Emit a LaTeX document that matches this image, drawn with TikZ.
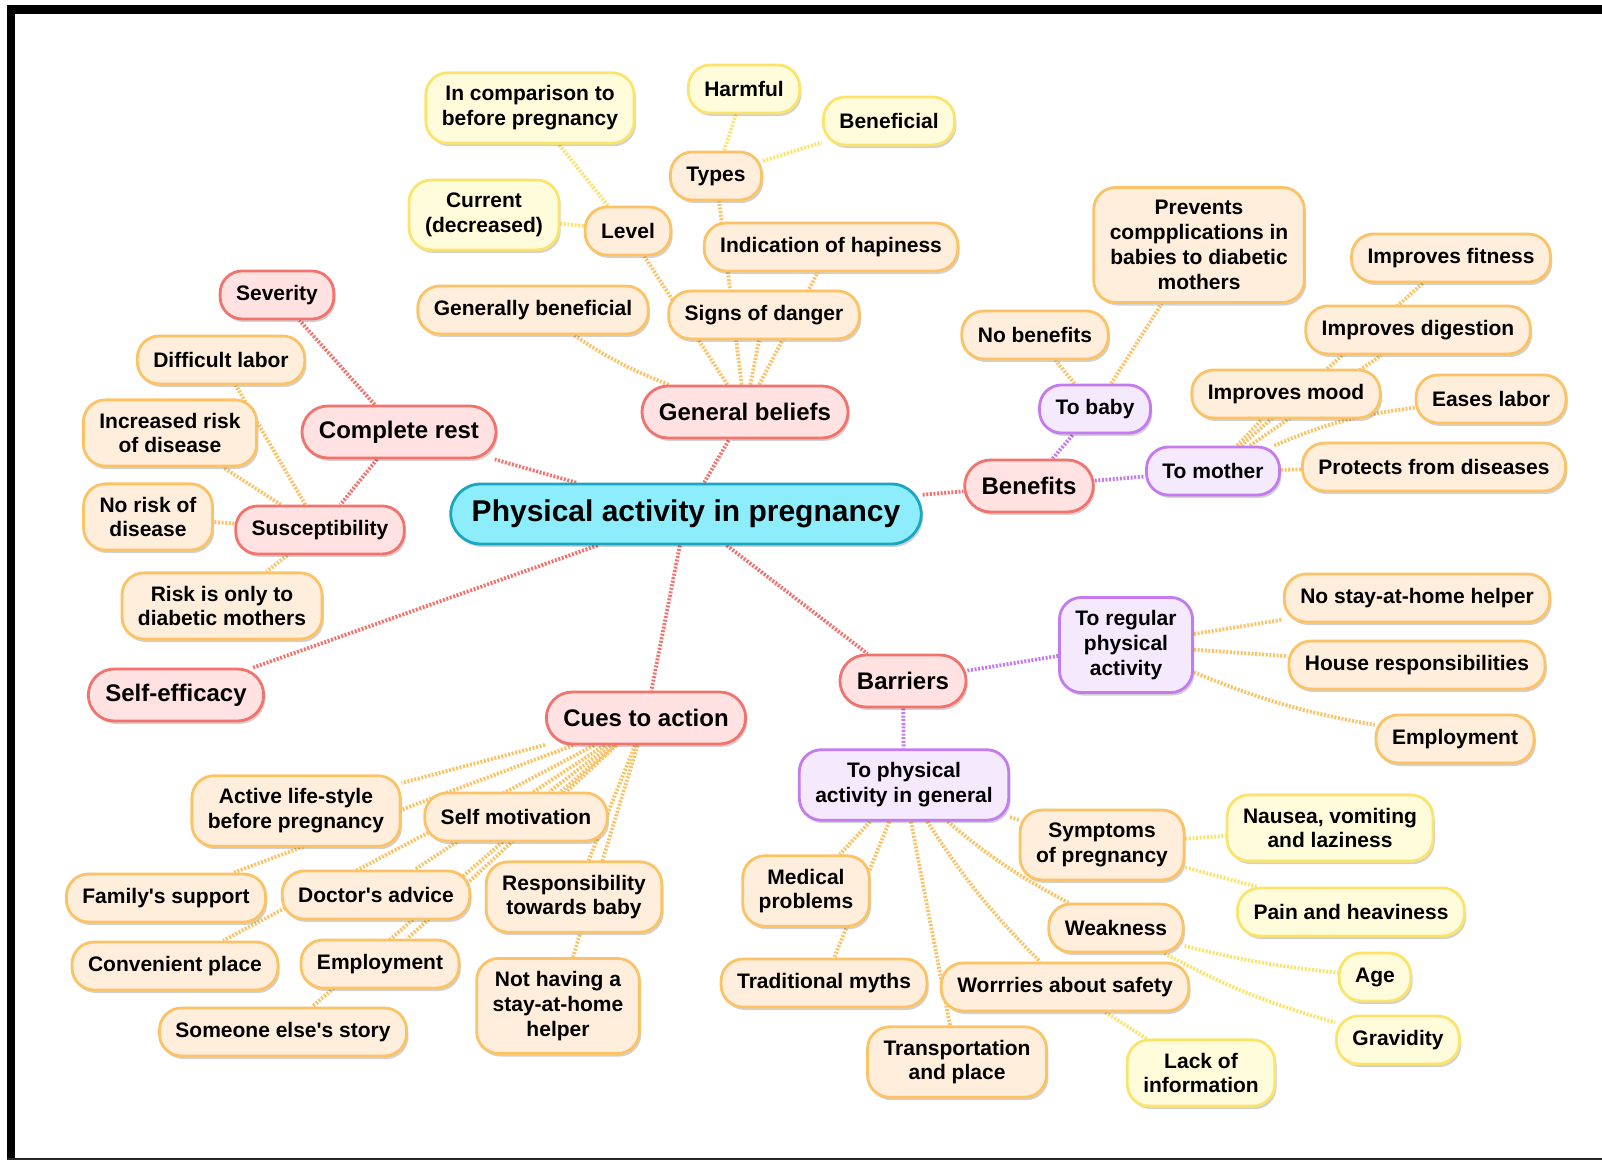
\documentclass[tikz,border=0pt]{standalone}
\usepackage{fontspec}
\setmainfont{Liberation Sans}
\usetikzlibrary{shadows,backgrounds}
\definecolor{cyanF}{HTML}{8DEDFB}
\definecolor{cyanB}{HTML}{1AA5C2}
\definecolor{redF}{HTML}{FFE2E1}
\definecolor{redB}{HTML}{F2736D}
\definecolor{purF}{HTML}{F5E9FE}
\definecolor{purB}{HTML}{C47AF0}
\definecolor{oraF}{HTML}{FFEEDB}
\definecolor{oraB}{HTML}{FCC366}
\definecolor{yelF}{HTML}{FFFCDC}
\definecolor{yelB}{HTML}{FCE46C}
\newcommand{\apo}{\textquotesingle}
\begin{document}
\begin{tikzpicture}[x=0.5pt,y=-0.5pt,
  nd/.style={draw, line width=1.4pt, align=center,
    font=\bfseries\fontsize{10.5}{12.4}\selectfont,
    inner xsep=8pt, inner ysep=6.5pt, minimum height=24pt, rounded corners=11pt,
    drop shadow={shadow xshift=0.9pt, shadow yshift=-1.5pt, fill=black, opacity=0.18}},
  ndO/.style={nd, fill=oraF, draw=oraB},
  ndY/.style={nd, fill=yelF, draw=yelB},
  ndP/.style={nd, fill=purF, draw=purB},
  ndR/.style={nd, fill=redF, draw=redB},
  ndL/.style={ndR, font=\bfseries\fontsize{12}{14}\selectfont, inner xsep=8.5pt,
    minimum height=26pt, rounded corners=13pt},
  ndM/.style={nd, fill=cyanF, draw=cyanB, font=\bfseries\fontsize{15}{18}\selectfont,
    inner xsep=10.5pt, minimum height=30pt, rounded corners=15pt},
  cn/.style={line width=1.9pt, dash pattern=on 1pt off 0.8pt},
  cnR/.style={cn, draw=redB},
  cnO/.style={cn, draw=oraB},
  cnY/.style={cn, draw=yelB},
  cnP/.style={cn, draw=purB},
]
\useasboundingbox (0,0) rectangle (1602,1160);

% frame
\fill[black] (7,5) rectangle (15,1160);
\fill[black] (7,5) rectangle (1602,14);
\fill[black!85] (7,1157.5) rectangle (1602,1160);

% central and first level
\node[ndM] (main) at (686,514) {Physical activity in pregnancy};
\node[ndL] (gb) at (745,412) {General beliefs};
\node[ndL] (cr) at (399,432) {Complete rest};
\node[ndL] (ben) at (1029,486) {Benefits};
\node[ndL] (bar) at (903,681) {Barriers};
\node[ndL] (cues) at (646,718) {Cues to action};
\node[ndL] (se) at (176,695) {Self-efficacy};

% general beliefs
\node[ndO] (genben) at (533,310) {Generally beneficial};
\node[ndO] (signs) at (764,315) {Signs of danger};
\node[ndO] (level) at (628,231) {Level};
\node[ndO] (types) at (716,176) {Types};
\node[ndO] (indic) at (831,247) {Indication of hapiness};
\node[ndY] (incomp) at (530,108) {In comparison to\\before pregnancy};
\node[ndY] (current) at (484,215) {Current\\(decreased)};
\node[ndY] (harmful) at (744,89) {Harmful};
\node[ndY] (benef) at (889,121) {Beneficial};

% complete rest
\node[ndR] (sever) at (277,295) {Severity};
\node[ndR] (susc) at (320,530) {Susceptibility};
\node[ndO] (diff) at (221,360) {Difficult labor};
\node[ndO] (incrisk) at (170,433) {Increased risk\\of disease};
\node[ndO] (norisk) at (148,517) {No risk of\\disease};
\node[ndO] (riskonly) at (222,606) {Risk is only to\\diabetic mothers};

% benefits
\node[ndP] (tobaby) at (1095,409) {To baby};
\node[ndP] (tomother) at (1213,471) {To mother};
\node[ndO] (noben) at (1035,335) {No benefits};
\node[ndO] (prevents) at (1199,245) {Prevents\\compplications in\\babies to diabetic\\mothers};
\node[ndO] (fitness) at (1451,258) {Improves fitness};
\node[ndO] (digest) at (1418,330) {Improves digestion};
\node[ndO] (mood) at (1286,394) {Improves mood};
\node[ndO] (eases) at (1491,399) {Eases labor};
\node[ndO] (protects) at (1434,467) {Protects from diseases};

% barriers
\node[ndP] (toreg) at (1126,645) {To regular\\physical\\activity};
\node[ndP] (togen) at (904,785) {To physical\\activity in general};
\node[ndO] (nostay) at (1417,598) {No stay-at-home helper};
\node[ndO] (house) at (1417,665) {House responsibilities};
\node[ndO] (employA) at (1455,739) {Employment};
\node[ndO] (sympt) at (1102,845) {Symptoms\\of pregnancy};
\node[ndO] (medical) at (806,891) {Medical\\problems};
\node[ndO] (weak) at (1116,928) {Weakness};
\node[ndO] (myths) at (824,983) {Traditional myths};
\node[ndO] (worries) at (1065,987) {Worrries about safety};
\node[ndO] (transp) at (957,1062) {Transportation\\and place};
\node[ndY] (nausea) at (1330,828) {Nausea, vomiting\\and laziness};
\node[ndY] (pain) at (1351,912) {Pain and heaviness};
\node[ndY] (age) at (1375,977) {Age};
\node[ndY] (gravid) at (1398,1040) {Gravidity};
\node[ndY] (lack) at (1201,1073) {Lack of\\information};

% cues to action
\node[ndO] (active) at (296,811) {Active life-style\\before pregnancy};
\node[ndO] (selfmot) at (516,817) {Self motivation};
\node[ndO] (family) at (166,898) {Family\apo s support};
\node[ndO] (doctor) at (376,895) {Doctor\apo s advice};
\node[ndO] (respons) at (574,897) {Responsibility\\towards baby};
\node[ndO] (conv) at (175,966) {Convenient place};
\node[ndO] (employB) at (380,964) {Employment};
\node[ndO] (someone) at (283,1032) {Someone else\apo s story};
\node[ndO] (nothave) at (558,1006) {Not having a\\stay-at-home\\helper};

\begin{scope}[on background layer]
\fill[white] (0,0) rectangle (1602,1160);
% red
\draw[cnR] (main) -- (gb);
\draw[cnR] (main) -- (cr);
\draw[cnR] (main) -- (ben);
\draw[cnR] (main) -- (bar);
\draw[cnR] (main) -- (cues);
\draw[cnR] (main) -- (se);
\draw[cnR] (cr) -- (sever);
\draw[cnR] (cr) -- (susc);
% general beliefs
\draw[cnO] (gb) to[bend left=6] (genben);
\draw[cnO] (gb) -- (signs);
\draw[cnO] (gb) -- (level);
\draw[cnO] (gb) -- (types);
\draw[cnO] (gb) -- (indic);
\draw[cnY] (level) -- (incomp);
\draw[cnY] (level) -- (current);
\draw[cnY] (types) -- (harmful);
\draw[cnY] (types) -- (benef);
% susceptibility
\draw[cnO] (susc) -- (diff);
\draw[cnO] (susc) -- (incrisk);
\draw[cnO] (susc) -- (norisk);
\draw[cnO] (susc) -- (riskonly);
% benefits
\draw[cnP] (ben) -- (tobaby);
\draw[cnP] (ben) -- (tomother);
\draw[cnO] (tobaby) -- (noben);
\draw[cnO] (tobaby) -- (prevents);
\draw[cnO] (tomother) -- (fitness);
\draw[cnO] (tomother) -- (digest);
\draw[cnO] (tomother) -- (mood);
\draw[cnO] (tomother) to[bend left=8] (eases);
\draw[cnO] (tomother) -- (protects);
% barriers
\draw[cnP] (bar) -- (toreg);
\draw[cnP] (bar) -- (togen);
\draw[cnO] (toreg) -- (nostay);
\draw[cnO] (toreg) -- (house);
\draw[cnO] (toreg) to[bend right=6] (employA);
\draw[cnO] (togen) -- (sympt);
\draw[cnO] (togen) -- (medical);
\draw[cnO] (togen) to[bend right=6] (weak);
\draw[cnO] (togen) -- (myths);
\draw[cnO] (togen) to[bend right=6] (worries);
\draw[cnO] (togen) -- (transp);
\draw[cnY] (sympt) -- (nausea);
\draw[cnY] (sympt) -- (pain);
\draw[cnY] (weak) to[bend right=4] (age);
\draw[cnY] (weak) to[bend right=6] (gravid);
\draw[cnY] (worries) -- (lack);
% cues
\draw[cnO] (cues) -- (active);
\draw[cnO] (cues) -- (selfmot);
\draw[cnO] (cues) -- (family);
\draw[cnO] (cues) -- (doctor);
\draw[cnO] (cues) -- (respons);
\draw[cnO] (cues) -- (conv);
\draw[cnO] (cues) -- (employB);
\draw[cnO] (cues) -- (someone);
\draw[cnO] (cues) -- (nothave);
\end{scope}
\end{tikzpicture}
\end{document}
